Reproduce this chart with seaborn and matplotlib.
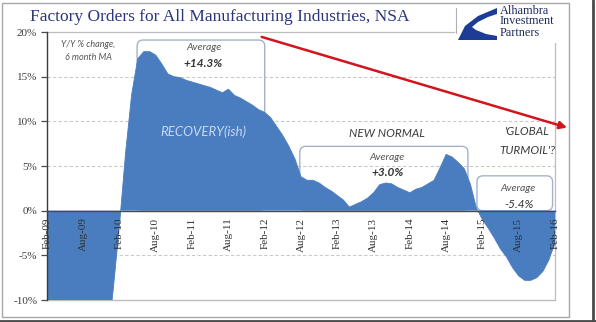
import matplotlib
matplotlib.use("Agg")
import matplotlib.pyplot as plt
from matplotlib.patches import FancyBboxPatch, Rectangle, Polygon
from matplotlib.lines import Line2D
import numpy as np
import pandas as pd
import seaborn as sns

# Year-over-year % change in factory orders, 6-month moving average, Feb-09 .. Feb-16
months = pd.period_range("2009-02", "2016-02", freq="M").strftime("%b-%y").tolist()
yoy_change = [
    -20.0, -23.0, -26.0, -28.0, -29.0, -28.0, -26.0, -24.0, -21.0, -18.0, -15.0,   # Feb-09..Dec-09
    -8.5, -1.5, 6.5, 13.0, 17.0, 17.8, 17.8, 17.4, 16.4, 15.3, 15.0, 14.9,          # 2010
    14.6, 14.4, 14.2, 14.0, 13.8, 13.5, 13.2, 13.6, 12.9, 12.6, 12.2, 11.8,         # 2011
    11.3, 11.0, 10.4, 9.4, 8.4, 7.2, 5.8, 3.8, 3.4, 3.4, 3.1, 2.6,                  # 2012
    2.2, 1.7, 1.2, 0.4, 0.7, 1.0, 1.4, 2.0, 2.9, 3.1, 3.0, 2.6,                     # 2013
    2.3, 2.0, 2.4, 2.6, 3.0, 3.4, 4.8, 6.3, 6.0, 5.4, 4.7, 3.0,                     # 2014
    0.3, -1.0, -2.0, -3.1, -4.3, -5.2, -6.4, -7.3, -7.8, -7.8, -7.5, -6.8,          # 2015
    -5.5, -3.6,                                                                     # Jan-16, Feb-16
]
tick_labels = ["Feb-09", "Aug-09", "Feb-10", "Aug-10", "Feb-11", "Aug-11", "Feb-12",
               "Aug-12", "Feb-13", "Aug-13", "Feb-14", "Aug-14", "Feb-15", "Aug-15", "Feb-16"]
y_ticks = [-10, -5, 0, 5, 10, 15, 20]
period_avgs = ["+14.3%", "+3.0%", "-5.4%"]

df = pd.DataFrame({"month": months, "t": np.arange(len(months)), "yoy": yoy_change})

sns.set_theme(style="white")
plt.rcParams["font.family"] = ["Liberation Serif", "DejaVu Serif"]

BLUE = "#4a7dbf"
BOX = "#a3b3c9"
GRID = "#c9c9c9"
SANS = ["Lato", "DejaVu Sans"]

fig = plt.figure(figsize=(5.96, 3.22), dpi=100)
ax = fig.add_axes([47 / 596, 22 / 322, 508 / 596, 268 / 322])

# area under the curve
ax.fill_between(df["t"], df["yoy"], 0, color=BLUE, lw=0, zorder=3)
sns.lineplot(data=df, x="t", y="yoy", ax=ax, color=BLUE, lw=0.6, zorder=3)

ax.set_xlim(0, 84)
ax.set_ylim(-10, 20)

# gridlines
for v in [-5, 5, 10, 15]:
    ax.axhline(v, color=GRID, lw=0.8, ls=(0, (3, 2)), zorder=1)
ax.axhline(-10, color="#bdbdbd", lw=1.0, zorder=1, clip_on=False)

# axes styling: the date axis sits on the zero line
for s in ["top", "right"]:
    ax.spines[s].set_color("#bdbdbd")
    ax.spines[s].set_linewidth(0.9)
ax.spines["left"].set_color("#3a3a3a")
ax.spines["left"].set_linewidth(1.0)
ax.spines["bottom"].set_position(("data", 0))
ax.spines["bottom"].set_color("#4a4a4a")
ax.spines["bottom"].set_linewidth(1.0)
ax.spines["bottom"].set_zorder(4)
ax.spines["left"].set_zorder(4)
ax.xaxis.set_zorder(6)
ax.yaxis.set_zorder(6)

ax.set_xticks(np.arange(0, 85, 6))
ax.set_xticklabels(tick_labels, rotation=90, fontsize=8, color="#303030")
ax.set_yticks(y_ticks)
ax.set_yticklabels([f"{v}%" for v in y_ticks], fontsize=8, color="#3c3c3c")
ax.tick_params(axis="x", direction="inout", length=6, width=0.9, color="#3a3a3a", pad=2)
ax.tick_params(axis="y", direction="out", length=4, width=0.9, color="#4a4a4a", pad=3, left=True)
ax.set_xlabel("")
ax.set_ylabel("")

# rounded period boxes (drawn beneath the area)
aspect = (508 / 84) / (268 / 30)
for x0, x1, top in [(14.9, 36.0, 19.1), (41.8, 69.6, 7.2), (71.1, 83.6, 3.9)]:
    box = FancyBboxPatch((x0, 0), x1 - x0, top,
                         boxstyle="round,pad=0,rounding_size=1.0",
                         mutation_aspect=aspect, fc="none", ec=BOX, lw=1.0, zorder=2)
    ax.add_patch(box)

# annotations
ax.text(6.8, 18.6, "Y/Y % change,", family=SANS, style="italic", fontsize=6.5,
        color="#555555", ha="center", va="center")
ax.text(6.8, 17.1, "6 month MA", family=SANS, style="italic", fontsize=6.5,
        color="#555555", ha="center", va="center")

ax.text(26.0, 18.3, "Average", family=SANS, style="italic", fontsize=7.5,
        color="#555555", ha="center", va="center", zorder=5)
ax.text(25.8, 16.5, period_avgs[0], family=SANS, style="italic", weight="bold",
        fontsize=8.5, color="#333333", ha="center", va="center", zorder=5)
ax.text(25.8, 8.8, "RECOVERY(ish)", family=SANS, style="italic", fontsize=9.5,
        color="#c8d8f0", ha="center", va="center", zorder=5)

ax.text(56.2, 8.6, "NEW NORMAL", family=SANS, style="italic", fontsize=8.5,
        color="#3c3c3c", ha="center", va="center", zorder=5)
ax.text(56.2, 6.0, "Average", family=SANS, style="italic", fontsize=7.5,
        color="#555555", ha="center", va="center", zorder=5)
ax.text(56.4, 4.3, period_avgs[1], family=SANS, style="italic", weight="bold",
        fontsize=8.5, color="#333333", ha="center", va="center", zorder=5)

ax.text(79.5, 8.9, "'GLOBAL", family=SANS, style="italic", fontsize=8.5,
        color="#3c3c3c", ha="center", va="center", zorder=5)
ax.text(79.5, 6.7, "TURMOIL'?", family=SANS, style="italic", fontsize=8.5,
        color="#3c3c3c", ha="center", va="center", zorder=5)
ax.text(77.9, 2.5, "Average", family=SANS, style="italic", fontsize=7.5,
        color="#555555", ha="center", va="center", zorder=5)
ax.text(78.0, 0.7, period_avgs[2], family=SANS, style="italic", fontsize=8.5,
        color="#333333", ha="center", va="center", zorder=5)

# trend arrow
ax.annotate("", xy=(86.0, 9.3), xytext=(35.5, 19.45), annotation_clip=False,
            arrowprops=dict(arrowstyle="-|>", color="#d3141c", lw=1.8,
                            mutation_scale=11, shrinkA=0, shrinkB=0),
            zorder=6)

# title
fig.text(30 / 596, 1 - 17 / 322, "Factory Orders for All Manufacturing Industries, NSA",
         fontsize=12.5, color="#2c357a", ha="left", va="center")

# logo
lax = fig.add_axes([455 / 596, 1 - 43 / 322, 112 / 596, 38 / 322])
lax.set_xlim(455, 567)
lax.set_ylim(43, 5)
lax.axis("off")
lax.add_patch(Rectangle((455, 5), 112, 38, fc="white", ec="none", zorder=0))
lax.plot([455.5, 455.5], [8, 33], color="#b0b0b0", lw=0.8)
lax.add_patch(Polygon([(497, 8), (478, 16), (465, 26), (458, 40), (497, 40),
                       (497, 36), (486, 34), (476, 30), (472, 27), (478, 22),
                       (488, 17), (497, 14)],
                      closed=True, fc="#1c3c96", ec="none"))
for i, word in enumerate(["Alhambra", "Investment", "Partners"]):
    lax.text(500, 10.5 + i * 11, word, fontsize=8.8, color="#1e2a5c",
             ha="left", va="center", linespacing=1.0)

# outer frame
fig.patches.append(Rectangle((2 / 596, 5 / 322), 567 / 596, 314 / 322,
                             transform=fig.transFigure, fill=False,
                             ec="#a8a8a8", lw=1.0))
fig.lines.append(Line2D([593 / 596, 593 / 596], [0, 1], transform=fig.transFigure,
                        color="#4a4a4a", lw=2))
fig.lines.append(Line2D([0, 1], [1.5 / 322, 1.5 / 322], transform=fig.transFigure,
                        color="#4a4a4a", lw=2))

fig.savefig("out.png", dpi=100)
